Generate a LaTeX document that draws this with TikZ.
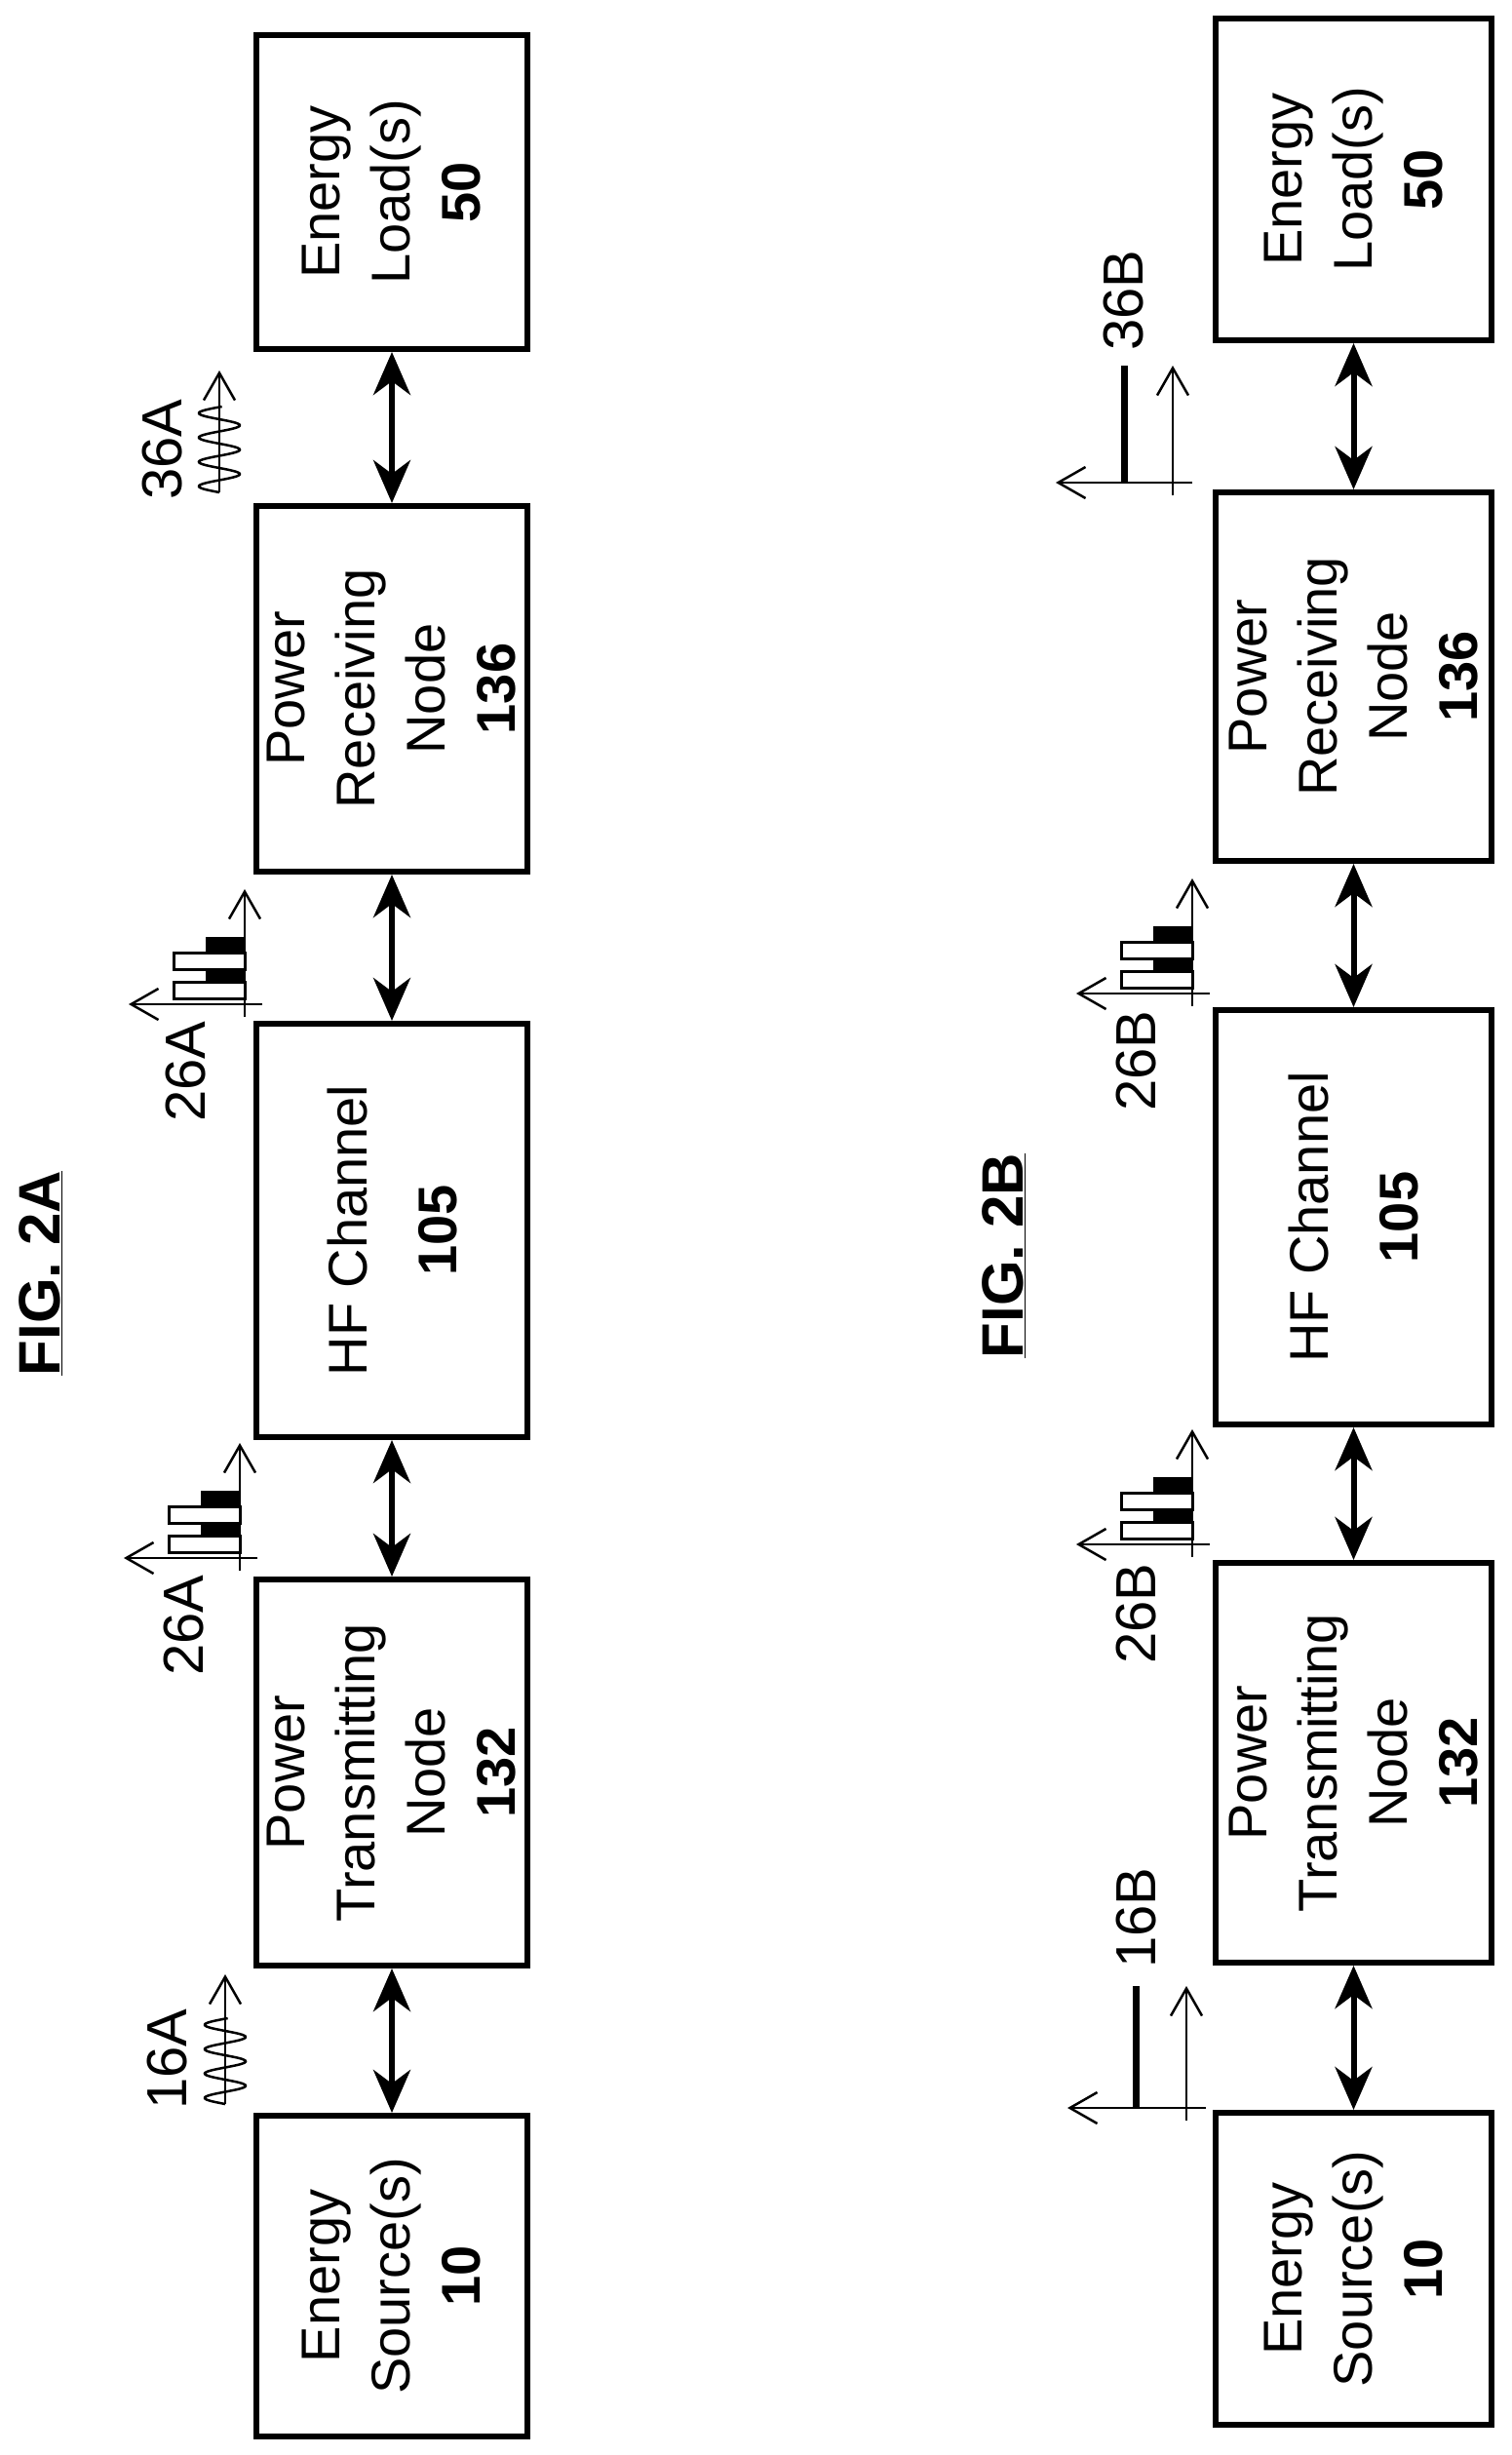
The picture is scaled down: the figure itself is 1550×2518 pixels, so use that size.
\documentclass[tikz,border=0pt]{standalone}
\usepackage{fontspec}
\setmainfont{Liberation Sans}
\usetikzlibrary{arrows.meta}
\begin{document}
\begin{tikzpicture}[x=1pt,y=-1pt,
  box/.style={draw,line width=6pt,minimum width=0pt,inner sep=0pt},
  txt/.style={rotate=90,align=center,font=\fontsize{56}{72}\selectfont},
  lab/.style={rotate=90,font=\fontsize{58}{60}\selectfont},
  fig/.style={rotate=90,font=\fontsize{60}{62}\selectfont\bfseries},
  conn/.style={line width=6pt,{Stealth[length=44pt,width=38pt,inset=14pt]}-{Stealth[length=44pt,width=38pt,inset=14pt]}},
  ax/.style={line width=2.5pt},
  axa/.style={line width=2.5pt,-{Straight Barb[length=28pt,width=32pt,line width=2.5pt]}},
  bar/.style={line width=3pt}]
\useasboundingbox (0,0) rectangle (1550,2518);
% ---------- FIG 2A boxes
\newcommand{\mybox}[6]{% name, x1,y1,x2,y2, text
  \node[box,minimum width={#4-#2},minimum height={#5-#3}] (#1) at ({(#2+#4)/2},{(#3+#5)/2}) {};
  \node[txt] (#1t) at (#1.center) {#6};}
\mybox{loadA}{263}{36}{541}{358}{Energy\\Load(s)\\\textbf{50}}
\mybox{prnA}{263}{519}{541}{894}{Power\\Receiving\\Node\\\textbf{136}}
\mybox{hfA}{263}{1050}{541}{1474}{HF Channel\\[20pt]\textbf{105}}
\mybox{ptnA}{263}{1620}{541}{2016}{Power\\Transmitting\\Node\\\textbf{132}}
\mybox{esA}{263}{2170}{541}{2499}{Energy\\Source(s)\\\textbf{10}}
\draw[conn] (loadA.south) -- (prnA.north);
\draw[conn] (prnA.south) -- (hfA.north);
\draw[conn] (hfA.south) -- (ptnA.north);
\draw[conn] (ptnA.south) -- (esA.north);
% ---------- FIG 2B boxes
\mybox{loadB}{1247}{19}{1530}{349}{Energy\\Load(s)\\\textbf{50}}
\mybox{prnB}{1247}{505}{1530}{883}{Power\\Receiving\\Node\\\textbf{136}}
\mybox{hfB}{1247}{1036}{1530}{1461}{HF Channel\\[20pt]\textbf{105}}
\mybox{ptnB}{1247}{1603}{1530}{2013}{Power\\Transmitting\\Node\\\textbf{132}}
\mybox{esB}{1247}{2167}{1530}{2487}{Energy\\Source(s)\\\textbf{10}}
\draw[conn] (loadB.south) -- (prnB.north);
\draw[conn] (prnB.south) -- (hfB.north);
\draw[conn] (hfB.south) -- (ptnB.north);
\draw[conn] (ptnB.south) -- (esB.north);
% ---------- figure titles
\node[fig] (figA) at (42,1306) {\underline{FIG. 2A}};
\node[fig] (figB) at (1030,1288) {\underline{FIG. 2B}};
% ---------- spectrum icons
\newcommand{\spec}[2]{%
 \begin{scope}[shift={(#1,#2)}]
  \fill (-40,-36) rectangle (0,-23);
  \fill (-40,-69) rectangle (0,-53);
  \draw[bar,fill=white] (-73,-23) rectangle (0,-6);
  \draw[bar,fill=white] (-73,-53) rectangle (0,-36);
  \draw[axa] (0,13) -- (0,-118);
  \draw[axa] (18,0) -- (-119,0);
 \end{scope}}
\spec{251}{1030}
\spec{246}{1598}
\spec{1223}{1019}
\spec{1223}{1584}
% ---------- sine icons
\newcommand{\sine}[3]{% x, top arrow y, bottom y
 \begin{scope}[shift={(#1,#3)}]
  \draw[line width=2.5pt,samples=150,domain=0:88] plot ({-21*sin(\x*14.4)},{-\x});
  \draw[axa] (0,0) -- (0,{#2-#3});
 \end{scope}}
\sine{225}{380}{505}
\sine{231}{2025}{2158}
% ---------- DC icons
\newcommand{\dc}[4]{% barx, axisx, top y, axis y
  \draw[line width=7pt] (#1,#3) -- (#1,#4);
  \draw[axa] (#2,#4+13) -- (#2,#3);
  \draw[axa] (#2+20,#4) -- (#1-70,#4);}
\dc{1153}{1203}{375}{495}
\dc{1165}{1217}{2037}{2162}
% ---------- labels
\node[lab] (l36A) at (167,461) {36A};
\node[lab] (l26A1) at (191,1099) {26A};
\node[lab] (l26A2) at (189,1667) {26A};
\node[lab] (l16A) at (172,2112) {16A};
\node[lab] (l36B) at (1153,308) {36B};
\node[lab] (l26B1) at (1166,1088) {26B};
\node[lab] (l26B2) at (1166,1655) {26B};
\node[lab] (l16B) at (1166,1967) {16B};
\end{tikzpicture}
\end{document}
